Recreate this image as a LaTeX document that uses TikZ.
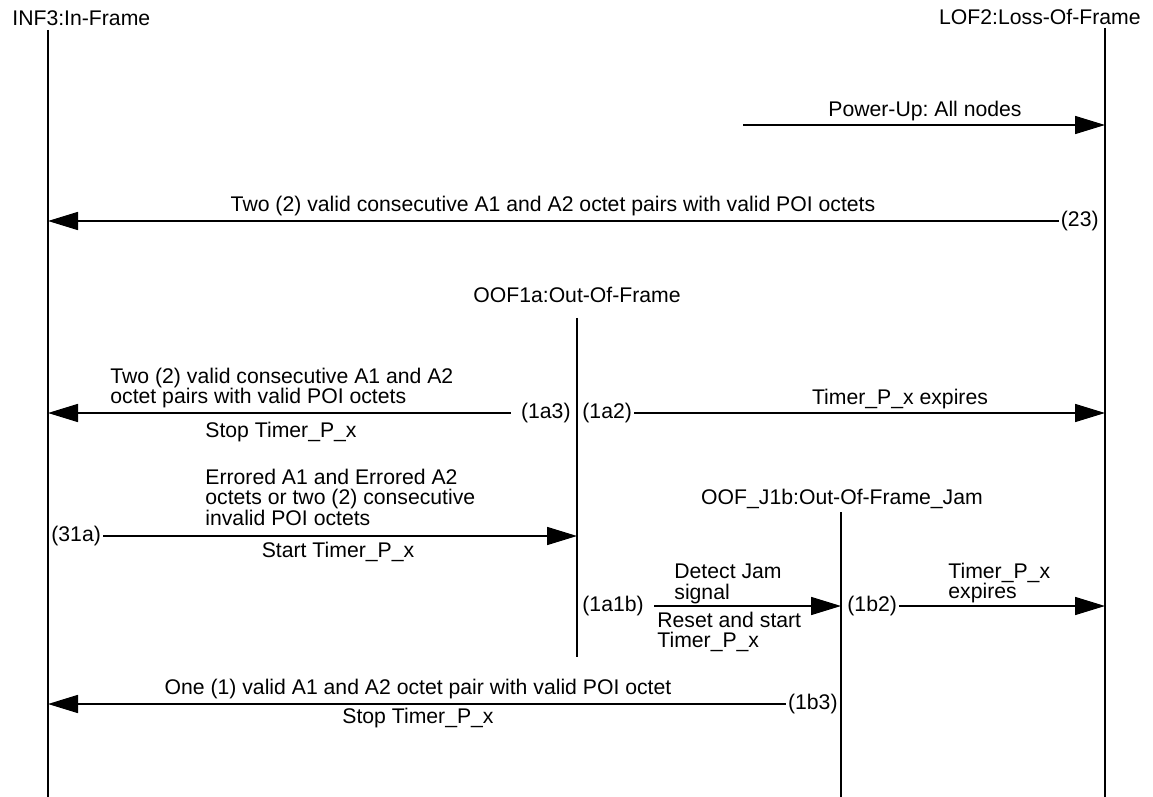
\documentclass[tikz,border=0pt]{standalone}
\usepackage{fontspec}
\setmainfont{Liberation Sans}
\usetikzlibrary{arrows.meta}
\begin{document}
\frenchspacing
\begin{tikzpicture}[x=0.5pt,y=-0.5pt,
    every node/.style={font=\fontsize{10.6}{10.25}\selectfont,inner sep=1pt},
    life/.style={line width=0.8pt},
    msg/.style={line width=0.8pt,-{Triangle[length=15pt,width=9pt]}},
    blk/.style={align=left,anchor=west}]

\useasboundingbox (0,0) rectangle (1153,797);

% Lifeline labels
\node[anchor=west] (infl) at (10,18) {INF3:In-Frame};
\node[anchor=east] (lofl) at (1143,17) {LOF2:Loss-Of-Frame};
\node (oofl) at (577,295) {OOF1a:Out-Of-Frame};
\node (jaml) at (842,499) {OOF\_J1b:Out-Of-Frame\_Jam};

%========================
% Lifelines
%========================
\coordinate (inftop) at (48,30);
\coordinate (infbot) at (48,797);
\coordinate (loftop) at (1105,28);
\coordinate (lofbot) at (1105,797);
\coordinate (ooftop) at (577,318);
\coordinate (oofbot) at (577,657);
\coordinate (jamtop) at (841,512);
\coordinate (jambot) at (841,797);

\draw[life] (inftop)--(infbot);
\draw[life] (loftop)--(lofbot);
\draw[life] (ooftop)--(oofbot);
\draw[life] (jamtop)--(jambot);

%========================
% Power-up
%========================
\coordinate (pustart) at (743,125);
\coordinate (lof-pu) at (1105,125);
\draw[msg] (pustart)--(lof-pu);
\node at (925,111) {Power-Up: All nodes};

%========================
% LOF2 -> INF3 (23)
%========================
\node[anchor=east] (m23) at (1101,221) {(23)};
\coordinate (inf-23) at (48,221);
\draw[msg] (m23.west)--(inf-23);
\node at (553,206) {Two (2) valid consecutive A1 and A2 octet pairs with valid POI octets};

%========================
% OOF1a transitions
%========================

% (1a3) back to INF3
\node[anchor=east] (m1a3) at (573,413) {(1a3)};
\coordinate (inf-1a3) at (48,413);
\draw[msg] ([xshift=-4pt]m1a3.west)--(inf-1a3);
\node[blk] at (108,388) {Two (2) valid consecutive A1 and A2\\octet pairs with valid POI octets};
\node at (281,432) {Stop Timer\_P\_x};

% (1a2) on to LOF2
\node[anchor=west] (m1a2) at (580,413) {(1a2)};
\coordinate (lof-1a2) at (1105,413);
\draw[msg] (m1a2.east)--(lof-1a2);
\node at (900,399) {Timer\_P\_x expires};

% (31a) INF3 into OOF1a
\node[anchor=west] (m31a) at (49,536) {(31a)};
\coordinate (oof-31a) at (577,536);
\draw[msg] (m31a.east)--(oof-31a);
\node[blk] at (203,497) {Errored A1 and Errored A2\\octets or two (2) consecutive\\invalid POI octets};
\node at (338,552) {Start Timer\_P\_x};

%========================
% OOF_J1b transitions
%========================

% (1a1b) OOF1a into OOF_J1b
\node[anchor=west] (m1a1b) at (580,606) {(1a1b)};
\coordinate (jam-1a1b) at (841,606);
\draw[msg] ([xshift=4pt]m1a1b.east)--(jam-1a1b);
\node[blk] at (672,584) {Detect Jam\\signal};
\node[blk] at (655,632) {Reset and start\\Timer\_P\_x};

% (1b2) on to LOF2
\node[anchor=west] (m1b2) at (845,606) {(1b2)};
\coordinate (lof-1b2) at (1105,606);
\draw[msg] (m1b2.east)--(lof-1b2);
\node[blk] at (946,583) {Timer\_P\_x\\expires};

% (1b3) back to INF3
\node[anchor=east] (m1b3) at (840,704) {(1b3)};
\coordinate (inf-1b3) at (48,704);
\draw[msg] (m1b3.west)--(inf-1b3);
\node at (418,689) {One (1) valid A1 and A2 octet pair with valid POI octet};
\node at (418,718) {Stop Timer\_P\_x};

\end{tikzpicture}
\end{document}
